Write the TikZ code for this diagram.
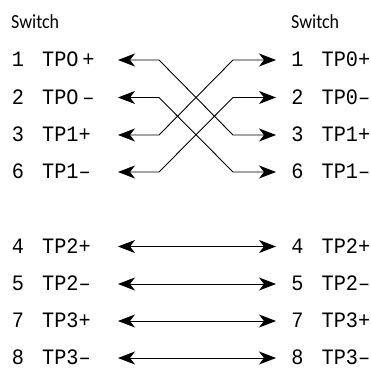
\documentclass[tikz,border=0pt]{standalone}
\usepackage{fontspec}
\setmainfont[FakeStretch=0.9]{Carlito}
\newfontfamily\monof[FakeStretch=0.92]{Liberation Mono}
\usetikzlibrary{arrows.meta}
\begin{document}
\begin{tikzpicture}[x=1pt,y=-1pt,
  numtxt/.style={font=\monof\fontsize{22}{26}\selectfont, anchor=base, inner sep=0pt},
  labtxt/.style={font=\monof\fontsize{22}{26}\selectfont, anchor=base west, inner sep=0pt},
  swtxt/.style={font=\fontsize{20}{24}\selectfont, anchor=base west, inner sep=0pt},
  tip/.style={Stealth[length=17pt,width=13pt,inset=5pt]},
  wire/.style={line width=0.9pt, {Stealth[length=17pt,width=13pt,inset=5pt]}-{Stealth[length=17pt,width=13pt,inset=5pt]}}]
\useasboundingbox (0,0) rectangle (371,375);
\fill[white] (0,0) rectangle (371,375);
% row coordinates
\foreach \n/\y in {1/60,2/97.5,3/135,6/172,4/246.5,5/284,7/321,8/358}{
  \coordinate (L\n) at (118,\y);
  \coordinate (LB\n) at (159,\y);
  \coordinate (RB\n) at (233,\y);
  \coordinate (R\n) at (276,\y);
  \node[numtxt] (ln\n) at (18,\y+6.5) {\n};
  \node[numtxt] (rn\n) at (297.5,\y+6.5) {\n};
}
% headings
\node[swtxt] (swl) at (11,28) {Switch};
\node[swtxt] (swr) at (291,28) {Switch};
% left labels
\node[labtxt] (ll1) at (42,66.5) {TPO\,+};
\node[labtxt] (ll2) at (42,104) {TPO\,–};
\node[labtxt] (ll3) at (42,141.5) {TP1+};
\node[labtxt] (ll6) at (42,178.5) {TP1–};
\node[labtxt] (ll4) at (42,253) {TP2+};
\node[labtxt] (ll5) at (42,290.5) {TP2–};
\node[labtxt] (ll7) at (42,327.5) {TP3+};
\node[labtxt] (ll8) at (42,364.5) {TP3–};
% right labels
\node[labtxt] (rl1) at (321.5,66.5) {TP0+};
\node[labtxt] (rl2) at (321.5,104) {TP0–};
\node[labtxt] (rl3) at (321.5,141.5) {TP1+};
\node[labtxt] (rl6) at (321.5,178.5) {TP1–};
\node[labtxt] (rl4) at (321.5,253) {TP2+};
\node[labtxt] (rl5) at (321.5,290.5) {TP2–};
\node[labtxt] (rl7) at (321.5,327.5) {TP3+};
\node[labtxt] (rl8) at (321.5,364.5) {TP3–};
% crossed wires
\draw[wire] (L1) -- (LB1) -- (RB3) -- (R3);
\draw[wire] (L2) -- (LB2) -- (RB6) -- (R6);
\draw[wire] (L3) -- (LB3) -- (RB1) -- (R1);
\draw[wire] (L6) -- (LB6) -- (RB2) -- (R2);
% straight wires
\draw[wire] (L4) -- (R4);
\draw[wire] (L5) -- (R5);
\draw[wire] (L7) -- (R7);
\draw[wire] (L8) -- (R8);
\end{tikzpicture}
\end{document}
